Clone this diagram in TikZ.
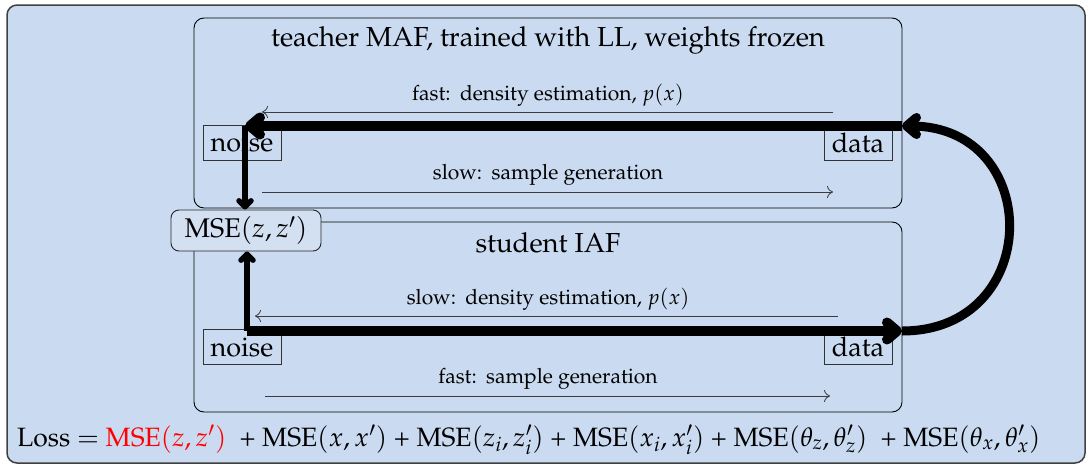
\documentclass[tikz,border=0pt]{standalone}
\usepackage[T1]{fontenc}
\usepackage{mathpazo}
\usetikzlibrary{arrows.meta}
\definecolor{bgblue}{RGB}{202,218,240}
\definecolor{thingray}{RGB}{60,60,60}
\newcommand{\colsp}{\hspace{0.45em}}
\begin{document}
\begin{tikzpicture}[x=1pt,y=-1pt,
  panel/.style={draw=black, line width=0.9pt, rounded corners=10pt, inner sep=0pt},
  titletext/.style={font=\fontsize{27.5}{33}\selectfont, inner sep=0pt},
  labeltext/.style={font=\fontsize{21}{26}\selectfont, inner sep=0pt},
  endbox/.style={draw=black!80, line width=0.9pt, minimum height=35pt, inner sep=0pt, font=\fontsize{27}{32}\selectfont},
  thinarrow/.style={draw=thingray, line width=0.8pt, -{To[length=6pt,width=12pt]}},
  bigarrow/.style={line width=10pt, -{Straight Barb[round, length=10pt, width=17pt]}},
  vertarrow/.style={line width=5.5pt, -{Straight Barb[round, length=6pt, width=12pt]}},
  curvearrow/.style={line width=9pt, -{Straight Barb[round, length=10pt, width=17pt]}},
  msebox/.style={draw=black!85, line width=0.9pt, rounded corners=8pt, fill=bgblue!85!white, minimum width=150pt, minimum height=41pt, inner sep=0pt, font=\fontsize{27}{32}\selectfont}
]
\useasboundingbox (0,0) rectangle (1086,466);
\draw[rounded corners=10pt, fill=bgblue, draw=black!75, line width=1.5pt] (7,5) rectangle (1085,463);

% panels
\node[panel, minimum width=708pt, minimum height=190pt] (teacher) at (548,113) {};
\node[panel, minimum width=708pt, minimum height=190pt] (student) at (548,317) {};
\node[titletext] (ttitle) at (548,40) {teacher MAF, trained with LL, weights frozen};
\node[titletext] (stitle) at (548,243) {student IAF};

% thin arrows and labels
\coordinate (a1s) at (833,112); \coordinate (a1e) at (262,112);
\coordinate (a2s) at (262,192); \coordinate (a2e) at (833,192);
\coordinate (a3s) at (838,316); \coordinate (a3e) at (255,316);
\coordinate (a4s) at (265,396); \coordinate (a4e) at (830,396);
\draw[thinarrow] (a1s) -- (a1e);
\draw[thinarrow] (a2s) -- (a2e);
\draw[thinarrow] (a3s) -- (a3e);
\draw[thinarrow] (a4s) -- (a4e);
\node[labeltext] (l1) at (548,95) {fast:\colsp density estimation, $p(x)$};
\node[labeltext] (l2) at (548,175) {slow:\colsp sample generation};
\node[labeltext] (l3) at (548,299) {slow:\colsp density estimation, $p(x)$};
\node[labeltext] (l4) at (548,379) {fast:\colsp sample generation};

% end boxes
\node[endbox, minimum width=78pt] (tnoise) at (242,142.5) {noise};
\node[endbox, minimum width=68pt] (tdata) at (858,142.5) {data};
\node[endbox, minimum width=78pt] (snoise) at (242,347) {noise};
\node[endbox, minimum width=68pt] (sdata) at (858,347) {data};

% MSE node
\node[msebox] (mse) at (246,230.5) {MSE$(z,z')$};

% thick connectors
\coordinate (tr) at (902,126);
\coordinate (tl) at (245,126);
\coordinate (bl) at (247,331);
\coordinate (br) at (902,331);
\draw[bigarrow] (tr) -- (tl);
\draw[vertarrow] (tl) -- (mse.north -| tl);
\draw[vertarrow] (bl) -- (mse.south -| bl);
\draw[bigarrow] (bl) -- (br);
\draw[curvearrow] (br) .. controls (1044,331) and (1044,126) .. (tr);

% loss line
\node[anchor=base west, inner sep=0pt, font=\fontsize{26.5}{32}\selectfont] (loss) at (17,446)
  {Loss $=$ \textcolor{red}{MSE$(z,z')$} \ + MSE$(x,x')$ + MSE$(z_i,z_i')$ + MSE$(x_i,x_i')$ + MSE$(\theta_z,\theta_z')$ \ + MSE$(\theta_x,\theta_x')$};
\end{tikzpicture}
\end{document}
